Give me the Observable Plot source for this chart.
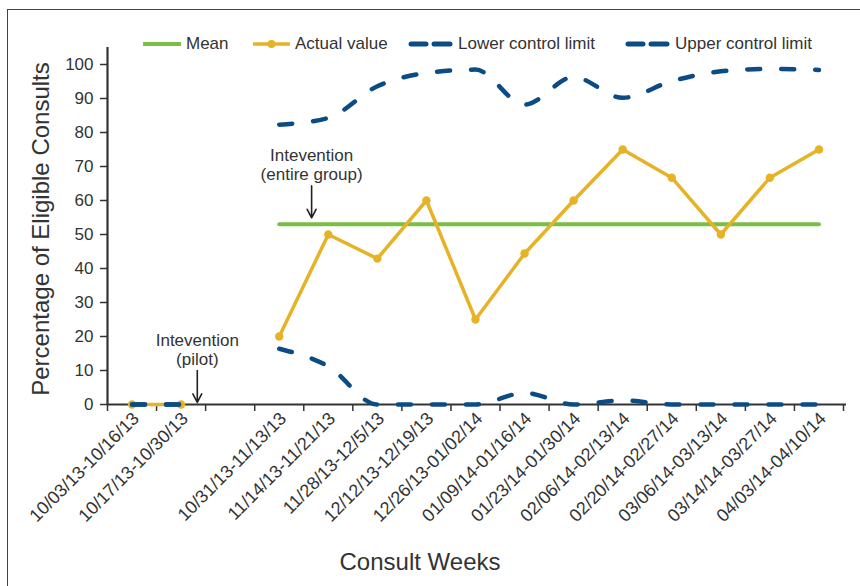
<!DOCTYPE html>
<html><head><meta charset="utf-8">
<script src="https://cdn.jsdelivr.net/npm/d3@7"></script>
<script src="https://cdn.jsdelivr.net/npm/@observablehq/plot@0.6"></script>
<style>
body{margin:0;background:#fff;font-family:"Liberation Sans",Arial,sans-serif;color:#333;}
#wrap{position:relative;width:860px;height:586px;overflow:hidden;}
#frame{position:absolute;left:7px;top:9px;width:870px;height:600px;border-top:1.5px solid #444;border-left:1.5px solid #444;}
#chart{position:absolute;left:0;top:0;}
.lg{position:absolute;top:34px;height:20px;display:flex;align-items:center;font-size:17px;color:#333;white-space:nowrap;}
.lg svg{margin-right:5px;}
#ytitle{position:absolute;left:41px;top:229px;transform:translate(-50%,-50%) rotate(-90deg);font-size:24px;white-space:nowrap;color:#333;}
#xtitle{position:absolute;left:420px;top:562px;transform:translate(-50%,-50%);font-size:24px;white-space:nowrap;color:#333;}
</style></head>
<body>
<div id="wrap">
  <div id="frame"></div>
  <div id="chart"></div>
  <div id="legend"></div>
  <div id="ytitle">Percentage of Eligible Consults</div>
  <div id="xtitle">Consult Weeks</div>
</div>
<script>
const weeks = ["10/03/13-10/16/13","10/17/13-10/30/13","","10/31/13-11/13/13","11/14/13-11/21/13","11/28/13-12/5/13","12/12/13-12/19/13","12/26/13-01/02/14","01/09/14-01/16/14","01/23/14-01/30/14","02/06/14-02/13/14","02/20/14-02/27/14","03/06/14-03/13/14","03/14/14-03/27/14","04/03/14-04/10/14"];
const actualValue = [0, 0, null, 20, 50, 42.9, 60, 25, 44.4, 60, 75, 66.7, 50, 66.7, 75];
const meanValue = [null, null, null, 53, 53, 53, 53, 53, 53, 53, 53, 53, 53, 53, 53];
const lowerLimit = [0, 0, null, 16.4, 11.2, 0, 0, 0, 3.4, 0, 1.2, 0, 0, 0, 0];
const upperLimit = [0, 0, null, 82.3, 84.3, 93.6, 97.5, 98.5, 88.2, 96.3, 90.2, 95.1, 98, 98.7, 98.4];
const yTicks = [0, 10, 20, 30, 40, 50, 60, 70, 80, 90, 100];
const noteLabels = ["Intevention\n(pilot)", "Intevention\n(entire group)"];
const noteWeekPos = [1.33, 3.66];
const noteTop = [10, 64.3];
const noteBottom = [0.6, 54.9];

const green = "#79be45", yellow = "#e6b226", blue = "#0b4c85";

const rows = weeks.map((w, i) => ({
  i, week: w,
  actual: actualValue[i] ?? NaN,
  mean: meanValue[i] ?? NaN,
  lcl: lowerLimit[i] ?? NaN,
  ucl: upperLimit[i] ?? NaN
}));
const notes = noteLabels.map((label, k) => ({label, x: noteWeekPos[k], top: noteTop[k], bottom: noteBottom[k]}));
const boundaries = d3.range(weeks.length + 1).map(k => k - 0.5);
const font = '"Liberation Sans", Arial, sans-serif';

const chart = Plot.plot({
  width: 860, height: 586,
  marginLeft: 107, marginRight: 17, marginTop: 47, marginBottom: 182,
  style: {fontFamily: font, fontSize: "17px", color: "#333", background: "transparent", overflow: "visible"},
  x: {domain: [-0.5, weeks.length - 0.5]},
  y: {domain: [0, 105]},
  marks: [
    Plot.axisY({ticks: yTicks, tickSize: 7, tickPadding: 7, label: null, stroke: "#333", strokeWidth: 1.5, fontSize: 17}),
    Plot.axisX({ticks: d3.range(weeks.length), tickFormat: i => weeks[i], tickSize: 0, tickRotate: -45, tickPadding: 11, dx: 4, label: null, fontSize: 18}),
    Plot.axisX({ticks: boundaries, tickFormat: () => "", tickSize: 7, label: null, stroke: "#333", strokeWidth: 1.5}),
    Plot.ruleY([0], {stroke: "#333", strokeWidth: 2.2, insetRight: -3}),
    Plot.ruleX([-0.5], {stroke: "#333", strokeWidth: 2.2}),
    Plot.line(rows, {x: "i", y: "mean", stroke: green, strokeWidth: 4}),
    Plot.line(rows, {x: "i", y: "actual", stroke: yellow, strokeWidth: 3.5}),
    Plot.dot(rows, {x: "i", y: "actual", fill: yellow, r: 4.2}),
    Plot.line(rows, {x: "i", y: "lcl", stroke: blue, strokeWidth: 4.5, strokeDasharray: "13,21", strokeLinecap: "round", curve: "monotone-x"}),
    Plot.line(rows, {x: "i", y: "ucl", stroke: blue, strokeWidth: 4.5, strokeDasharray: "13,21", strokeLinecap: "round", curve: "monotone-x"}),
    Plot.arrow(notes, {x1: "x", x2: "x", y1: "top", y2: "bottom", stroke: "#222", strokeWidth: 1.6, headLength: 9, headAngle: 55}),
    Plot.text(notes, {x: "x", y: "top", text: "label", lineAnchor: "bottom", dy: -6, fontSize: 17, fill: "#333", lineHeight: 1.1})
  ]
});
document.getElementById("chart").appendChild(chart);

// legend
const legendItems = [
  {label: "Mean", left: 143, kind: "solid", color: green},
  {label: "Actual value", left: 253, kind: "dot", color: yellow},
  {label: "Lower control limit", left: 408, kind: "dash", color: blue},
  {label: "Upper control limit", left: 625, kind: "dash", color: blue}
];
const lg = document.getElementById("legend");
for (const it of legendItems) {
  const div = document.createElement("div");
  div.className = "lg";
  div.style.left = it.left + "px";
  let sw;
  if (it.kind === "solid") sw = `<svg width="38" height="10"><line x1="1" x2="37" y1="5" y2="5" stroke="${it.color}" stroke-width="4" stroke-linecap="round"/></svg>`;
  else if (it.kind === "dot") sw = `<svg width="37" height="10"><line x1="1" x2="36" y1="5" y2="5" stroke="${it.color}" stroke-width="3.5" stroke-linecap="round"/><circle cx="18.5" cy="5" r="4" fill="${it.color}"/></svg>`;
  else sw = `<svg width="45" height="10"><line x1="3" x2="18" y1="5" y2="5" stroke="${it.color}" stroke-width="5" stroke-linecap="round"/><line x1="26" x2="42" y1="5" y2="5" stroke="${it.color}" stroke-width="5" stroke-linecap="round"/></svg>`;
  div.innerHTML = sw + `<span>${it.label}</span>`;
  lg.appendChild(div);
}
</script>
</body></html>
